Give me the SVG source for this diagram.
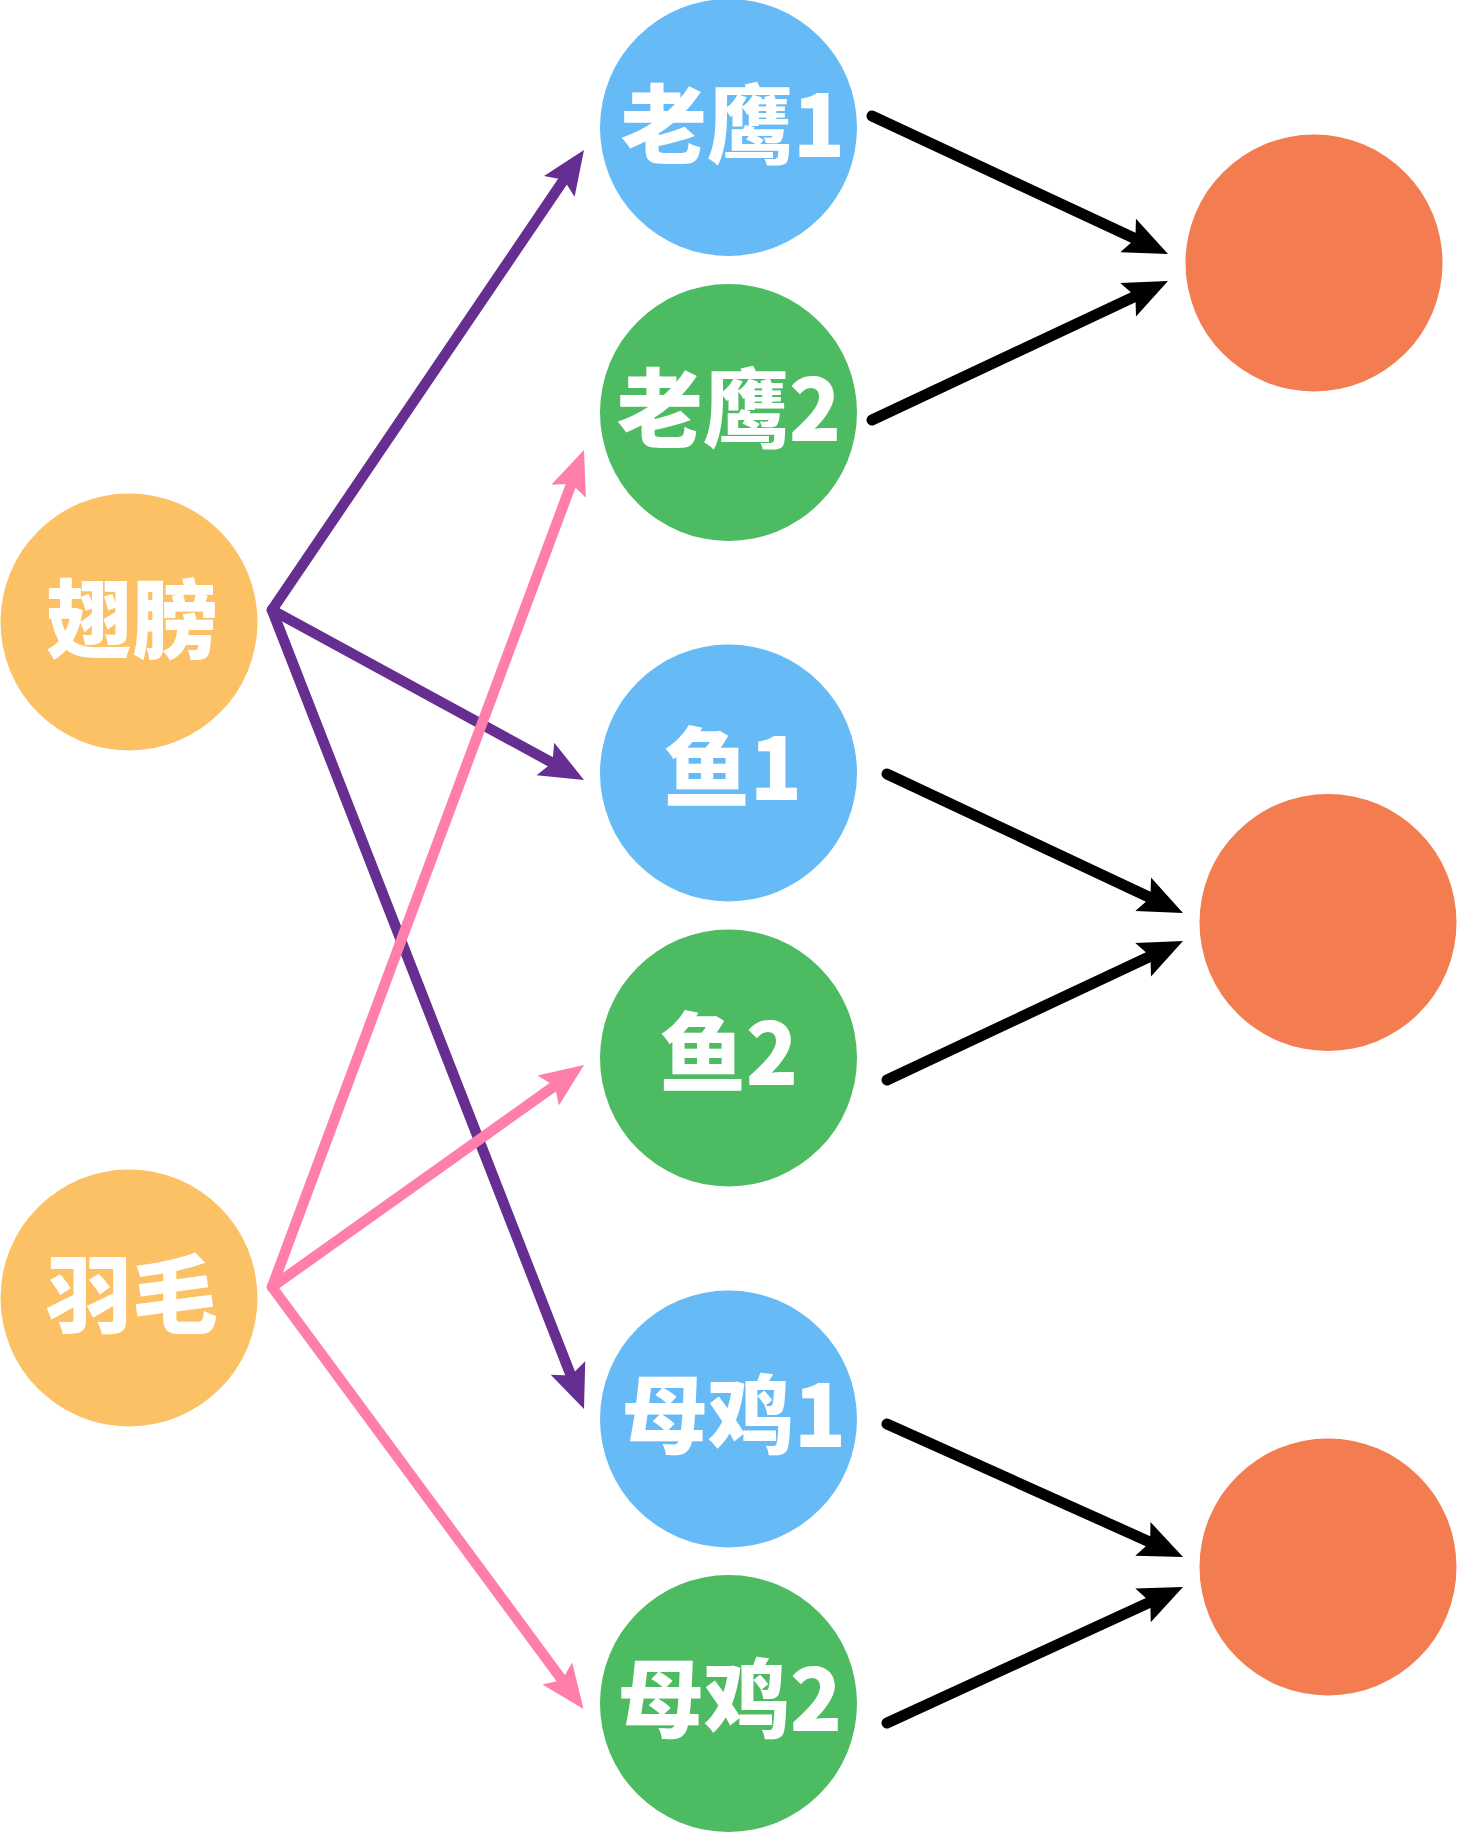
<svg xmlns="http://www.w3.org/2000/svg" width="1458" height="1834" viewBox="0 0 1458 1834">
<style>
.lbl{font-family:"Noto Sans CJK SC","Noto Sans",sans-serif;font-weight:900;font-size:86px;fill:#ffffff;text-anchor:middle;dominant-baseline:central}
.blue{fill:#66BBF7}
.green{fill:#4CBB62}
.yel{fill:#FCC165}
.org{fill:#F37C51}
.pur{stroke:#652E90;stroke-width:10.5;fill:none;stroke-linecap:round;stroke-linejoin:round;marker-end:url(#ap)}
.pnk{stroke:#FF7EAC;stroke-width:10.5;fill:none;stroke-linecap:round;stroke-linejoin:round;marker-end:url(#ak)}
.blk{stroke:#000000;stroke-width:11;fill:none;stroke-linecap:round;marker-end:url(#ab)}
</style>
<defs>
<marker id="ab" markerUnits="userSpaceOnUse" viewBox="-12 -22 52 44" markerWidth="52" markerHeight="44" refX="0" refY="0" orient="auto" overflow="visible"><path d="M36,0 L-8,-18.5 L0,0 L-8,18.5 Z" fill="#000000"/></marker>
<marker id="ap" markerUnits="userSpaceOnUse" viewBox="-12 -22 52 44" markerWidth="52" markerHeight="44" refX="0" refY="0" orient="auto" overflow="visible"><path d="M36,0 L-8,-18.5 L0,0 L-8,18.5 Z" fill="#652E90"/></marker>
<marker id="ak" markerUnits="userSpaceOnUse" viewBox="-12 -22 52 44" markerWidth="52" markerHeight="44" refX="0" refY="0" orient="auto" overflow="visible"><path d="M36,0 L-8,-18.5 L0,0 L-8,18.5 Z" fill="#FF7EAC"/></marker>
</defs>
<rect width="1458" height="1834" fill="#ffffff"/>
<g id="n-chibang"><circle class="yel" cx="129" cy="622" r="128.5"/><text class="lbl" x="132" y="614">翅膀</text></g>
<g id="n-yumao"><circle class="yel" cx="129" cy="1298" r="128.5"/><text class="lbl" x="132" y="1289">羽毛</text></g>
<g id="n-laoying1"><circle class="blue" cx="728.5" cy="127.5" r="128.5"/><text class="lbl" x="733" y="119">老鹰1</text></g>
<g id="n-laoying2"><circle class="green" cx="728.5" cy="412.5" r="128.5"/><text class="lbl" x="729" y="403">老鹰2</text></g>
<g id="n-yu1"><circle class="blue" cx="728.5" cy="773" r="128.5"/><text class="lbl" x="733" y="762">鱼1</text></g>
<g id="n-yu2"><circle class="green" cx="728.5" cy="1058" r="128.5"/><text class="lbl" x="729" y="1047">鱼2</text></g>
<g id="n-muji1"><circle class="blue" cx="728.5" cy="1419" r="128.5"/><text class="lbl" x="734" y="1409">母鸡1</text></g>
<g id="n-muji2"><circle class="green" cx="728.5" cy="1703.5" r="128.5"/><text class="lbl" x="730" y="1693">母鸡2</text></g>
<g id="n-out1"><circle class="org" cx="1314" cy="263" r="128.5"/></g>
<g id="n-out2"><circle class="org" cx="1328" cy="922.5" r="128.5"/></g>
<g id="n-out3"><circle class="org" cx="1328" cy="1567" r="128.5"/></g>
<g id="connectors">
<path class="pur" d="M272,610 L563.8,179.8"/>
<path class="pur" d="M272,610 L552.4,762.8"/>
<path class="pur" d="M272,610 L570.9,1375.5"/>
<path class="pnk" d="M272,1287 L571.4,483.7"/>
<path class="pnk" d="M272,1287 L554.7,1085.9"/>
<path class="pnk" d="M272,1287 L562.1,1680"/>
<path class="blk" d="M872,116 L1135.4,238.8"/>
<path class="blk" d="M872,420 L1135.4,296.3"/>
<path class="blk" d="M887,774 L1150.4,897.7"/>
<path class="blk" d="M887,1080 L1150.4,956.3"/>
<path class="blk" d="M887,1424 L1150.2,1542.2"/>
<path class="blk" d="M887,1723 L1150.3,1602"/>
</g>
</svg>
